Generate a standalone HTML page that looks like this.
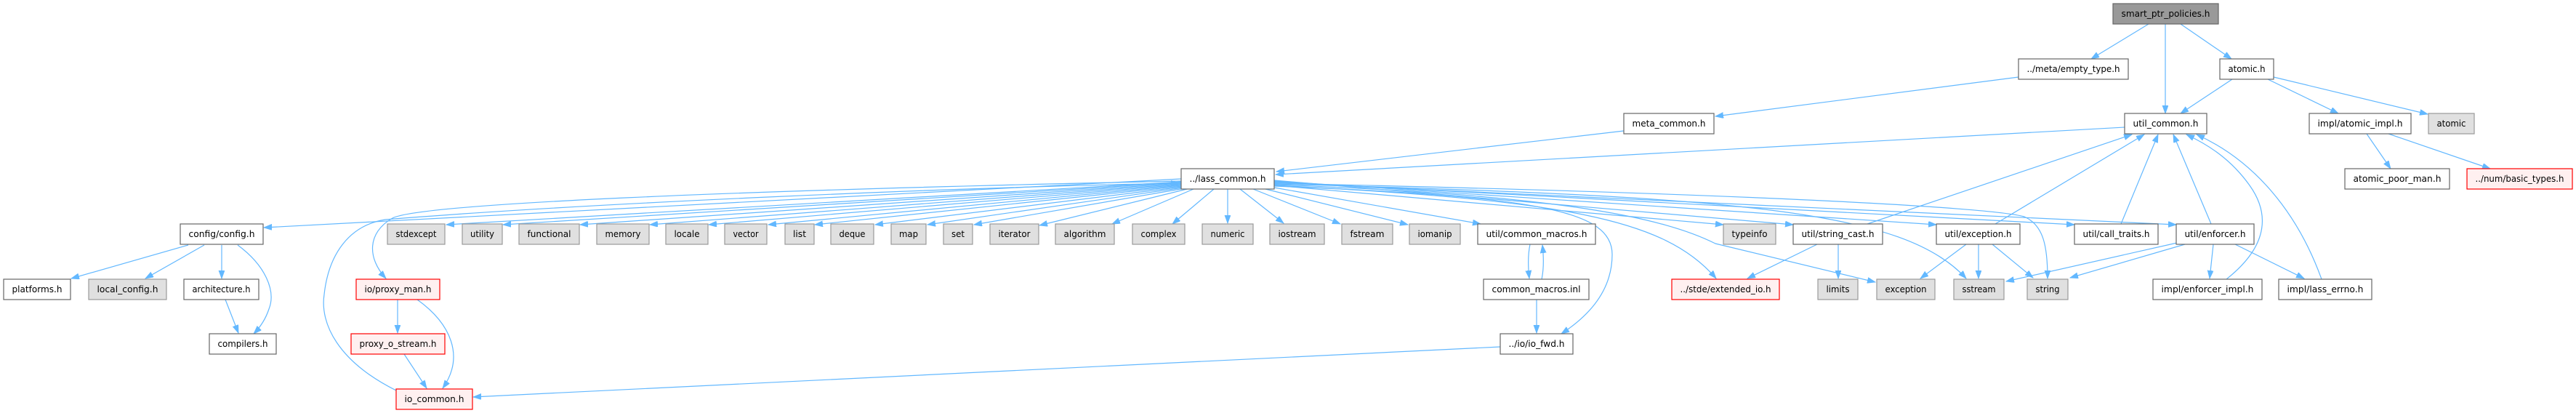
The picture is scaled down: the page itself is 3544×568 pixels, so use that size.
<!DOCTYPE html>
<html><head><meta charset="utf-8">
<style>
html,body{margin:0;padding:0;background:#fff;}
svg{display:block;}
text{font-family:"DejaVu Sans","Liberation Sans",sans-serif;font-size:12px;fill:#000;text-anchor:middle;}
.w{fill:#fff;stroke:#666;stroke-width:1.2;}
.g{fill:#e0e0e0;stroke:#999;stroke-width:1.2;}
.r{fill:#fff0f0;stroke:#f00;stroke-width:1.2;}
.k{fill:#999;stroke:#666;stroke-width:1.2;}
path.e{fill:none;stroke:#63b8ff;stroke-width:1.2;marker-end:url(#a);}
</style></head>
<body>
<svg width="3544" height="568" viewBox="0 0 3544 568" xmlns="http://www.w3.org/2000/svg">
<defs>
<marker id="a" markerWidth="12" markerHeight="9" refX="11" refY="4" orient="auto" markerUnits="userSpaceOnUse">
<path d="M0,0 L11,4 L0,8 z" fill="#63b8ff" stroke="#63b8ff" stroke-width="0.8"/>
</marker>
</defs>
<rect width="3544" height="568" fill="#fff"/>

<!-- edges -->
<path class="e" d="M2956,33 L2877,81"/>
<path class="e" d="M2979,33 L2979,156"/>
<path class="e" d="M3000,33 L3070,81"/>
<path class="e" d="M2777,106 L2360,160"/>
<path class="e" d="M3071,109 L3000,156"/>
<path class="e" d="M3120,109 L3217,156"/>
<path class="e" d="M3128,106 L3340,157"/>
<path class="e" d="M3256,184 L3289,232"/>
<path class="e" d="M3286,184 L3426,232"/>
<path class="e" d="M2923,175 L1755,240"/>
<path class="e" d="M2234,180 L1756,236"/>

<path class="e" d="M1625,246 L363,313"/>
<path class="e" d="M1625,250 L614,309"/>
<path class="e" d="M1625,251 L692,309"/>
<path class="e" d="M1625,252 L798,309"/>
<path class="e" d="M1625,253 L894,309"/>
<path class="e" d="M1625,254 L975,309"/>
<path class="e" d="M1625,255 L1057,309"/>
<path class="e" d="M1626,256 L1121,309"/>
<path class="e" d="M1627,257 L1204,309"/>
<path class="e" d="M1628,258 L1276,309"/>
<path class="e" d="M1630,259 L1340,309"/>
<path class="e" d="M1633,260 L1430,310"/>
<path class="e" d="M1642,260 L1530,308"/>
<path class="e" d="M1670,260 L1613,308"/>
<path class="e" d="M1689,260 L1689,307"/>
<path class="e" d="M1706,260 L1766,307"/>
<path class="e" d="M1724,260 L1844,308"/>
<path class="e" d="M1741,260 L1937,309"/>
<path class="e" d="M1753,258 L2037,308"/>

<path class="e" d="M1753,255 L2371,309"/>
<path class="e" d="M1753,248 L2467,309"/>
<path class="e" d="M1753,249 L2664,309"/>
<path class="e" d="M1753,250 L2854,309"/>
<path class="e" d="M1753,251 L2994,309"/>
<path class="e" d="M1753,252 C2400,266 2740,285 2785,298 C2812,310 2817,340 2817,383"/>
<path class="e" d="M1753,253 C2400,270 2620,290 2705,383"/>
<path class="e" d="M1753,254 C2150,268 2290,300 2360,335 L2580,388"/>
<path class="e" d="M1753,255 C2150,275 2290,300 2361,383"/>
<path class="e" d="M1753,256 C2120,270 2218,290 2218,350 C2218,400 2185,435 2148,459"/>

<path class="e" d="M1625,249 C1000,262 580,280 540,300 C505,320 505,355 531,383"/>
<path class="e" d="M545,537 C465,497 440,445 446,405 C452,350 480,310 530,302 C800,280 1300,258 1622,252"/>

<path class="e" d="M259,337 L98,383"/>
<path class="e" d="M281,337 L200,383"/>
<path class="e" d="M305,337 L305,383"/>
<path class="e" d="M327,337 C365,365 380,400 370,425 C365,440 358,450 349,459"/>
<path class="e" d="M310,412 L328,458"/>
<path class="e" d="M547,412 L547,458"/>
<path class="e" d="M574,412 C620,445 640,490 609,534"/>
<path class="e" d="M556,487 L587,534"/>
<path class="e" d="M2064,477 L651,546"/>
<path class="e" d="M2105,336 C2102,350 2102,365 2104,383"/>
<path class="e" d="M2121,384 C2124,370 2124,355 2122,337"/>
<path class="e" d="M2114,412 L2114,458"/>
<path class="e" d="M2500,336 L2404,383"/>
<path class="e" d="M2529,336 L2529,383"/>
<path class="e" d="M2569,308 L2933,185"/>
<path class="e" d="M2705,336 L2642,383"/>
<path class="e" d="M2722,336 L2722,383"/>
<path class="e" d="M2741,336 L2797,382"/>
<path class="e" d="M2745,308 L2950,185"/>
<path class="e" d="M2918,308 L2969,185"/>
<path class="e" d="M3042,308 L2990,185"/>
<path class="e" d="M2995,334 L2760,387"/>
<path class="e" d="M3006,336 L2848,382"/>
<path class="e" d="M3045,336 L3040,383"/>
<path class="e" d="M3075,336 L3170,383"/>
<path class="e" d="M3063,384 C3125,335 3120,290 3095,255 C3070,220 3040,200 3008,185"/>
<path class="e" d="M3194,384 C3160,290 3100,220 3022,185"/>

<!-- row 0 -->
<rect class="k" x="2907" y="5" width="145" height="28"/><text x="2979.5" y="23" textLength="122" lengthAdjust="spacingAndGlyphs">smart_ptr_policies.h</text>
<!-- row 1 -->
<rect class="w" x="2777" y="81" width="151" height="28"/><text x="2852.5" y="99" textLength="128" lengthAdjust="spacingAndGlyphs">../meta/empty_type.h</text>
<rect class="w" x="3054" y="81" width="74" height="28"/><text x="3091" y="99" textLength="51" lengthAdjust="spacingAndGlyphs">atomic.h</text>
<!-- row 2 -->
<rect class="w" x="2234" y="156" width="124" height="28"/><text x="2296" y="174" textLength="101" lengthAdjust="spacingAndGlyphs">meta_common.h</text>
<rect class="w" x="2923" y="156" width="113" height="28"/><text x="2979.5" y="174" textLength="90" lengthAdjust="spacingAndGlyphs">util_common.h</text>
<rect class="w" x="3177" y="156" width="140" height="28"/><text x="3247" y="174" textLength="117" lengthAdjust="spacingAndGlyphs">impl/atomic_impl.h</text>
<rect class="g" x="3341" y="156" width="63" height="28"/><text x="3372.5" y="174" textLength="40" lengthAdjust="spacingAndGlyphs">atomic</text>
<!-- row 3 -->
<rect class="w" x="1625" y="232" width="128" height="28"/><text x="1689" y="250" textLength="105" lengthAdjust="spacingAndGlyphs">../lass_common.h</text>
<rect class="w" x="3226" y="232" width="144" height="28"/><text x="3298" y="250" textLength="121" lengthAdjust="spacingAndGlyphs">atomic_poor_man.h</text>
<rect class="r" x="3394" y="232" width="145" height="28"/><text x="3466.5" y="250" textLength="122" lengthAdjust="spacingAndGlyphs">../num/basic_types.h</text>
<!-- row 4 -->
<rect class="w" x="248" y="308" width="114" height="28"/><text x="305" y="326" textLength="91" lengthAdjust="spacingAndGlyphs">config/config.h</text>
<rect class="g" x="533" y="308" width="79" height="28"/><text x="572.5" y="326" textLength="56" lengthAdjust="spacingAndGlyphs">stdexcept</text>
<rect class="g" x="636" y="308" width="55" height="28"/><text x="663.5" y="326" textLength="33" lengthAdjust="spacingAndGlyphs">utility</text>
<rect class="g" x="714" y="308" width="83" height="28"/><text x="755.5" y="326" textLength="60" lengthAdjust="spacingAndGlyphs">functional</text>
<rect class="g" x="821" y="308" width="72" height="28"/><text x="857" y="326" textLength="49" lengthAdjust="spacingAndGlyphs">memory</text>
<rect class="g" x="916" y="308" width="58" height="28"/><text x="945" y="326" textLength="35" lengthAdjust="spacingAndGlyphs">locale</text>
<rect class="g" x="997" y="308" width="58" height="28"/><text x="1026" y="326" textLength="35" lengthAdjust="spacingAndGlyphs">vector</text>
<rect class="g" x="1080" y="308" width="40" height="28"/><text x="1100" y="326" textLength="18" lengthAdjust="spacingAndGlyphs">list</text>
<rect class="g" x="1143" y="308" width="59" height="28"/><text x="1172.5" y="326" textLength="36" lengthAdjust="spacingAndGlyphs">deque</text>
<rect class="g" x="1226" y="308" width="48" height="28"/><text x="1250" y="326" textLength="26" lengthAdjust="spacingAndGlyphs">map</text>
<rect class="g" x="1298" y="308" width="40" height="28"/><text x="1318" y="326" textLength="18" lengthAdjust="spacingAndGlyphs">set</text>
<rect class="g" x="1362" y="308" width="67" height="28"/><text x="1395.5" y="326" textLength="44" lengthAdjust="spacingAndGlyphs">iterator</text>
<rect class="g" x="1452" y="308" width="81" height="28"/><text x="1492.5" y="326" textLength="58" lengthAdjust="spacingAndGlyphs">algorithm</text>
<rect class="g" x="1558" y="308" width="72" height="28"/><text x="1594" y="326" textLength="49" lengthAdjust="spacingAndGlyphs">complex</text>
<rect class="g" x="1654" y="308" width="70" height="28"/><text x="1689" y="326" textLength="47" lengthAdjust="spacingAndGlyphs">numeric</text>
<rect class="g" x="1747" y="308" width="75" height="28"/><text x="1784.5" y="326" textLength="52" lengthAdjust="spacingAndGlyphs">iostream</text>
<rect class="g" x="1846" y="308" width="70" height="28"/><text x="1881" y="326" textLength="47" lengthAdjust="spacingAndGlyphs">fstream</text>
<rect class="g" x="1939" y="308" width="70" height="28"/><text x="1974" y="326" textLength="47" lengthAdjust="spacingAndGlyphs">iomanip</text>
<rect class="w" x="2033" y="308" width="162" height="28"/><text x="2114" y="326" textLength="139" lengthAdjust="spacingAndGlyphs">util/common_macros.h</text>
<rect class="g" x="2371" y="308" width="72" height="28"/><text x="2407" y="326" textLength="49" lengthAdjust="spacingAndGlyphs">typeinfo</text>
<rect class="w" x="2467" y="308" width="123" height="28"/><text x="2528.5" y="326" textLength="100" lengthAdjust="spacingAndGlyphs">util/string_cast.h</text>
<rect class="w" x="2664" y="308" width="115" height="28"/><text x="2721.5" y="326" textLength="92" lengthAdjust="spacingAndGlyphs">util/exception.h</text>
<rect class="w" x="2854" y="308" width="115" height="28"/><text x="2911.5" y="326" textLength="92" lengthAdjust="spacingAndGlyphs">util/call_traits.h</text>
<rect class="w" x="2994" y="308" width="107" height="28"/><text x="3047.5" y="326" textLength="84" lengthAdjust="spacingAndGlyphs">util/enforcer.h</text>
<!-- row 5 -->
<rect class="w" x="5" y="384" width="92" height="28"/><text x="51" y="402" textLength="69" lengthAdjust="spacingAndGlyphs">platforms.h</text>
<rect class="g" x="122" y="384" width="107" height="28"/><text x="175.5" y="402" textLength="84" lengthAdjust="spacingAndGlyphs">local_config.h</text>
<rect class="w" x="253" y="384" width="103" height="28"/><text x="304.5" y="402" textLength="80" lengthAdjust="spacingAndGlyphs">architecture.h</text>
<rect class="r" x="490" y="384" width="115" height="28"/><text x="547.5" y="402" textLength="92" lengthAdjust="spacingAndGlyphs">io/proxy_man.h</text>
<rect class="w" x="2041" y="384" width="145" height="28"/><text x="2113.5" y="402" textLength="122" lengthAdjust="spacingAndGlyphs">common_macros.inl</text>
<rect class="r" x="2300" y="384" width="148" height="28"/><text x="2374" y="402" textLength="125" lengthAdjust="spacingAndGlyphs">../stde/extended_io.h</text>
<rect class="g" x="2501" y="384" width="55" height="28"/><text x="2528.5" y="402" textLength="32" lengthAdjust="spacingAndGlyphs">limits</text>
<rect class="g" x="2582" y="384" width="80" height="28"/><text x="2622" y="402" textLength="57" lengthAdjust="spacingAndGlyphs">exception</text>
<rect class="g" x="2688" y="384" width="69" height="28"/><text x="2722.5" y="402" textLength="46" lengthAdjust="spacingAndGlyphs">sstream</text>
<rect class="g" x="2789" y="384" width="56" height="28"/><text x="2817" y="402" textLength="33" lengthAdjust="spacingAndGlyphs">string</text>
<rect class="w" x="2962" y="384" width="150" height="28"/><text x="3037" y="402" textLength="127" lengthAdjust="spacingAndGlyphs">impl/enforcer_impl.h</text>
<rect class="w" x="3135" y="384" width="128" height="28"/><text x="3199" y="402" textLength="105" lengthAdjust="spacingAndGlyphs">impl/lass_errno.h</text>
<!-- row 6 -->
<rect class="w" x="288" y="459" width="92" height="28"/><text x="334" y="477" textLength="69" lengthAdjust="spacingAndGlyphs">compilers.h</text>
<rect class="r" x="483" y="459" width="129" height="28"/><text x="547.5" y="477" textLength="106" lengthAdjust="spacingAndGlyphs">proxy_o_stream.h</text>
<rect class="w" x="2064" y="459" width="100" height="28"/><text x="2114" y="477" textLength="77" lengthAdjust="spacingAndGlyphs">../io/io_fwd.h</text>
<!-- row 7 -->
<rect class="r" x="545" y="535" width="105" height="28"/><text x="597.5" y="553" textLength="82" lengthAdjust="spacingAndGlyphs">io_common.h</text>
</svg>
</body></html>
